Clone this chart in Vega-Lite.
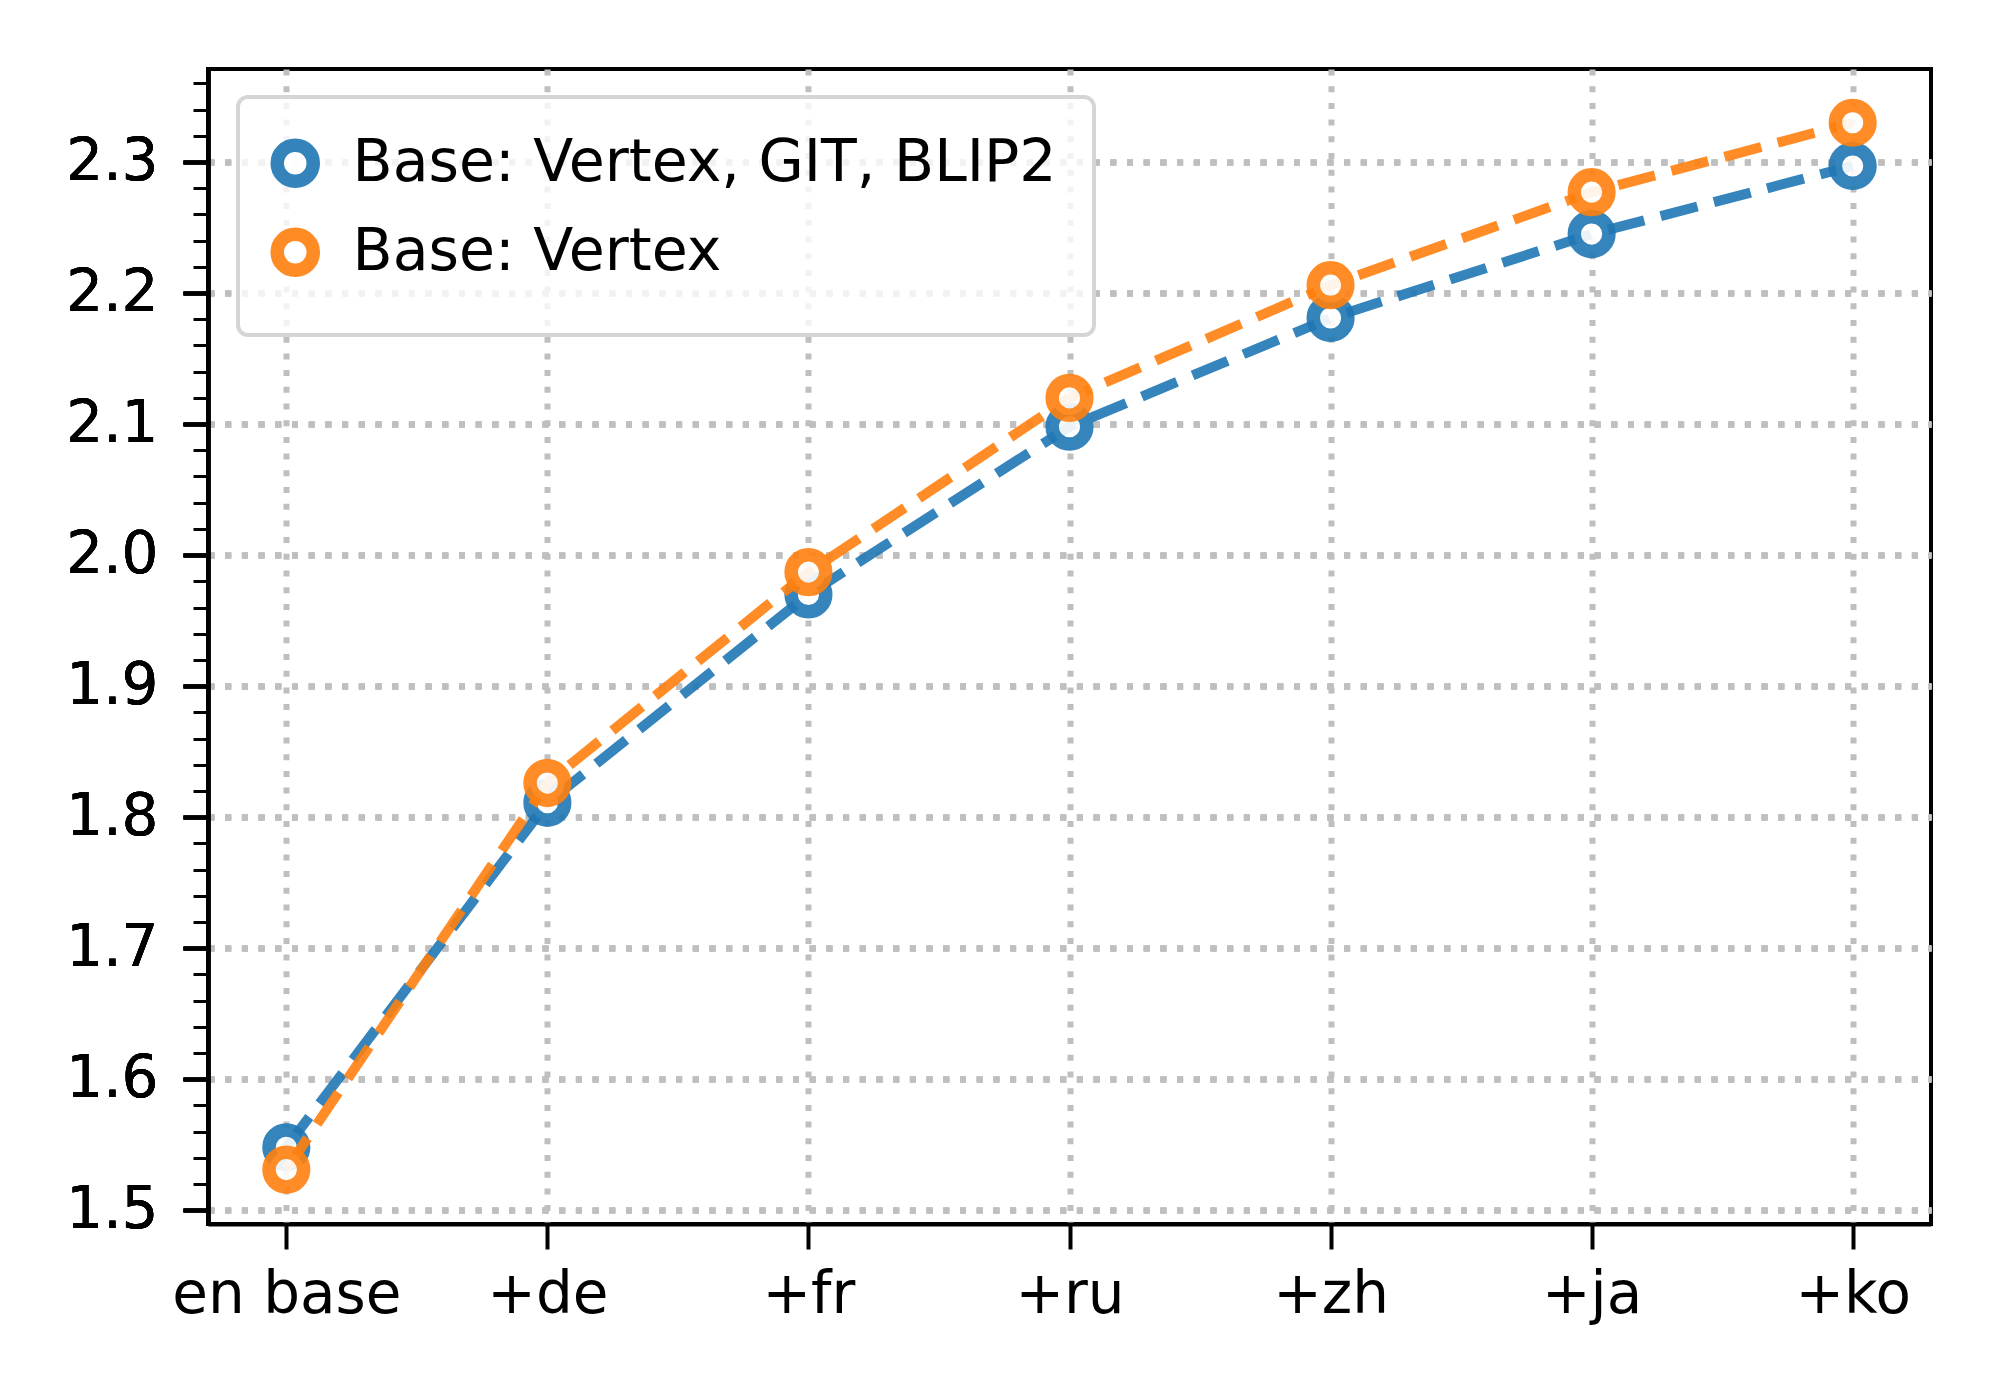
{
  "$schema": "https://vega.github.io/schema/vega-lite/v6.json",
  "width": 1723,
  "height": 1155,
  "autosize": {"type": "none"},
  "padding": {"left": 208, "top": 69, "right": 69, "bottom": 176},
  "background": "white",
  "data": {
    "values": [
      {"lang": "en base", "series": "Base: Vertex, GIT, BLIP2", "value": 1.548},
      {"lang": "+de", "series": "Base: Vertex, GIT, BLIP2", "value": 1.811},
      {"lang": "+fr", "series": "Base: Vertex, GIT, BLIP2", "value": 1.970},
      {"lang": "+ru", "series": "Base: Vertex, GIT, BLIP2", "value": 2.098},
      {"lang": "+zh", "series": "Base: Vertex, GIT, BLIP2", "value": 2.181},
      {"lang": "+ja", "series": "Base: Vertex, GIT, BLIP2", "value": 2.245},
      {"lang": "+ko", "series": "Base: Vertex, GIT, BLIP2", "value": 2.297},
      {"lang": "en base", "series": "Base: Vertex", "value": 1.531},
      {"lang": "+de", "series": "Base: Vertex", "value": 1.826},
      {"lang": "+fr", "series": "Base: Vertex", "value": 1.987},
      {"lang": "+ru", "series": "Base: Vertex", "value": 2.120},
      {"lang": "+zh", "series": "Base: Vertex", "value": 2.206},
      {"lang": "+ja", "series": "Base: Vertex", "value": 2.277},
      {"lang": "+ko", "series": "Base: Vertex", "value": 2.330}
    ]
  },
  "encoding": {
    "x": {
      "field": "lang",
      "type": "ordinal",
      "sort": ["en base", "+de", "+fr", "+ru", "+zh", "+ja", "+ko"],
      "scale": {"type": "point", "padding": 0.3},
      "axis": {
        "title": null,
        "labelAngle": 0,
        "labelFontSize": 58,
        "labelPadding": 17,
        "labelLimit": 1000,
        "tickSize": 25,
        "tickWidth": 4,
        "domainWidth": 4,
        "grid": true
      }
    },
    "y": {
      "field": "value",
      "type": "quantitative",
      "scale": {"domain": [1.4895, 2.371], "zero": false, "nice": false},
      "axis": {
        "title": null,
        "orient": "left",
        "values": [1.5, 1.6, 1.7, 1.8, 1.9, 2.0, 2.1, 2.2, 2.3],
        "format": ".1f",
        "labelFontSize": 58,
        "labelPadding": 25,
        "tickSize": 25,
        "tickWidth": 4,
        "domainWidth": 4,
        "grid": true
      }
    },
    "stroke": {
      "field": "series",
      "type": "nominal",
      "title": null,
      "scale": {
        "domain": ["Base: Vertex, GIT, BLIP2", "Base: Vertex"],
        "range": ["#1f77b4", "#ff7f0e"]
      }
    }
  },
  "layer": [
    {
      "transform": [{"filter": "datum.series === 'Base: Vertex, GIT, BLIP2'"}],
      "mark": {"type": "line", "strokeWidth": 10, "strokeDash": [38, 17], "opacity": 0.9}
    },
    {
      "transform": [{"filter": "datum.series === 'Base: Vertex, GIT, BLIP2'"}],
      "mark": {"type": "point", "shape": "circle", "filled": true, "fill": "white", "fillOpacity": 0.9, "strokeOpacity": 0.9, "size": 1200, "strokeWidth": 13.5}
    },
    {
      "transform": [{"filter": "datum.series === 'Base: Vertex'"}],
      "mark": {"type": "line", "strokeWidth": 10, "strokeDash": [38, 17], "opacity": 0.9}
    },
    {
      "transform": [{"filter": "datum.series === 'Base: Vertex'"}],
      "mark": {"type": "point", "shape": "circle", "filled": true, "fill": "white", "fillOpacity": 0.9, "strokeOpacity": 0.9, "size": 1200, "strokeWidth": 13.5}
    },
    {
      "mark": {"type": "rule", "opacity": 0},
      "encoding": {
        "y": {
          "field": "value",
          "type": "quantitative",
          "axis": {
            "title": null,
            "orient": "left",
            "values": [1.5, 1.52, 1.54, 1.56, 1.58, 1.6, 1.62, 1.64, 1.66, 1.68, 1.7, 1.72, 1.74, 1.76, 1.78, 1.8, 1.82, 1.84, 1.86, 1.88, 1.9, 1.92, 1.94, 1.96, 1.98, 2.0, 2.02, 2.04, 2.06, 2.08, 2.1, 2.12, 2.14, 2.16, 2.18, 2.2, 2.22, 2.24, 2.26, 2.28, 2.3, 2.32, 2.34, 2.36],
            "labels": false,
            "labelOpacity": 0,
            "grid": false,
            "domain": false,
            "tickSize": 15,
            "tickWidth": 3
          }
        },
        "x": {"field": "lang", "type": "ordinal", "sort": ["en base", "+de", "+fr", "+ru", "+zh", "+ja", "+ko"]},
        "stroke": {"value": "black"}
      }
    }
  ],
  "resolve": {"axis": {"y": "independent"}},
  "config": {
    "font": "DejaVu Sans",
    "view": {"stroke": "black", "strokeWidth": 4},
    "axis": {
      "labelFont": "DejaVu Sans",
      "labelColor": "black",
      "tickColor": "black",
      "domainColor": "black",
      "gridColor": "#bfbfbf",
      "gridWidth": 6,
      "gridDash": [6, 10.7]
    },
    "legend": {
      "orient": "none",
      "legendX": 30,
      "legendY": 28,
      "labelFont": "DejaVu Sans",
      "labelFontSize": 58.5,
      "labelColor": "black",
      "labelLimit": 2000,
      "labelOffset": 28,
      "symbolOffset": -9,
      "symbolType": "circle",
      "symbolSize": 1300,
      "symbolStrokeWidth": 13.5,
      "symbolFillColor": "white",
      "symbolOpacity": 0.9,
      "symbolDash": [],
      "rowPadding": -2,
      "padding": 37,
      "strokeColor": "#d5d5d5",
      "strokeWidth": 4,
      "fillColor": "rgba(255,255,255,0.8)",
      "cornerRadius": 10
    }
  }
}
